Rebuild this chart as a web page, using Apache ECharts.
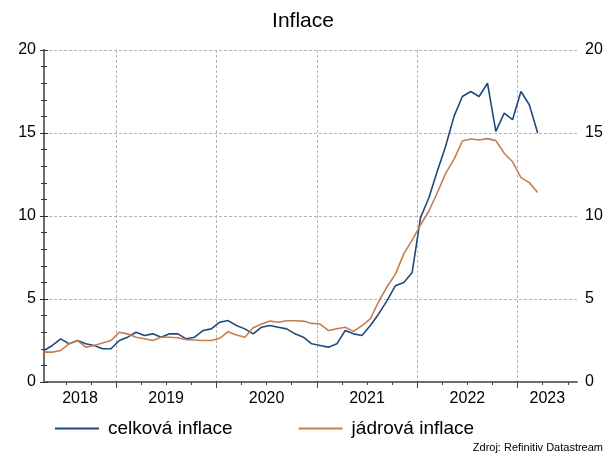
<!DOCTYPE html>
<html>
<head>
<meta charset="utf-8">
<script src="https://cdn.jsdelivr.net/npm/echarts@6/dist/echarts.min.js"></script>
<style>
	html,body{margin:0;padding:0;background:#fff;}
	#chartInflace{width:606px;height:454px;}
</style>
</head>
<body>
<div id="chartInflace"></div>
<script>
	// měsíce 2018-04 .. 2023-03
	const months = [
		'2018-04','2018-05','2018-06','2018-07','2018-08','2018-09','2018-10','2018-11','2018-12',
		'2019-01','2019-02','2019-03','2019-04','2019-05','2019-06','2019-07','2019-08','2019-09','2019-10','2019-11','2019-12',
		'2020-01','2020-02','2020-03','2020-04','2020-05','2020-06','2020-07','2020-08','2020-09','2020-10','2020-11','2020-12',
		'2021-01','2021-02','2021-03','2021-04','2021-05','2021-06','2021-07','2021-08','2021-09','2021-10','2021-11','2021-12',
		'2022-01','2022-02','2022-03','2022-04','2022-05','2022-06','2022-07','2022-08','2022-09','2022-10','2022-11','2022-12',
		'2023-01','2023-02','2023-03'
	];
	// celková inflace (%)
	const celkova = [
		1.9,2.2,2.6,2.3,2.5,2.3,2.2,2.0,2.0,
		2.5,2.7,3.0,2.8,2.9,2.7,2.9,2.9,2.6,2.7,3.1,3.2,
		3.6,3.7,3.4,3.2,2.9,3.3,3.4,3.3,3.2,2.9,2.7,2.3,
		2.2,2.1,2.3,3.1,2.9,2.8,3.4,4.1,4.9,5.8,6.0,6.6,
		9.9,11.1,12.7,14.2,16.0,17.2,17.5,17.2,18.0,15.1,16.2,15.8,
		17.5,16.7,15.0
	];
	// jádrová inflace (%)
	const jadrova = [
		1.8,1.8,1.9,2.3,2.5,2.1,2.2,2.35,2.5,
		3.0,2.9,2.7,2.6,2.5,2.7,2.7,2.67,2.55,2.53,2.5,2.5,
		2.63,3.03,2.83,2.69,3.27,3.49,3.67,3.6,3.69,3.69,3.67,3.53,
		3.49,3.1,3.21,3.3,3.05,3.4,3.8,4.85,5.74,6.5,7.72,8.55,
		9.46,10.3,11.4,12.57,13.41,14.52,14.64,14.58,14.66,14.54,13.78,13.27,
		12.31,12.01,11.41
	];
	// popisky let a jejich poloha na ose (index měsíce)
	const yearLabels = ['2018','2019','2020','2021','2022','2023'];
	const yearLabelPos = [4.3,14.6,26.6,38.6,50.6,60.15];
	const yearLines = [8.6,20.6,32.6,44.6,56.6];
	const quarterTicks = [2.6,5.6,8.6,11.6,14.6,17.6,20.6,23.6,26.6,29.6,32.6,35.6,38.6,41.6,44.6,47.6,50.6,53.6,56.6,59.6,62.6];

	const fontName = '"Liberation Sans", Arial, sans-serif';
	const blue = '#1f4a7c';
	const orange = '#c67e4f';
	const axisColor = '#6e6e6e';
	const gridColor = '#b4b4b4';

	const myChart = echarts.init(document.getElementById('chartInflace'));
	const chartOption = {
		animation: false,
		backgroundColor: '#fff',
		textStyle: {fontFamily: fontName},
		title: {
			text: 'Inflace',
			left: 'center',
			top: 6,
			textStyle: {fontSize: 21, fontWeight: 'normal', color: '#000', fontFamily: fontName}
		},
		grid: {left: 44, right: 29, top: 50, bottom: 72},
		legend: {
			left: 50,
			top: 414,
			icon: 'rect',
			itemWidth: 44,
			itemHeight: 2,
			itemGap: 66,
			textStyle: {fontSize: 19, color: '#000', fontFamily: fontName, padding: [0, 0, 0, 4]},
			data: ['celková inflace', 'jádrová inflace']
		},
		graphic: [{
			type: 'text',
			right: 3,
			bottom: 1,
			style: {text: 'Zdroj: Refinitiv Datastream', fontSize: 11, fill: '#000', fontFamily: fontName}
		}],
		xAxis: [{
			type: 'value',
			min: 0,
			max: 63.7,
			position: 'bottom',
			axisLine: {show: true, lineStyle: {color: axisColor, width: 2}},
			axisTick: {show: true, customValues: quarterTicks, length: 3, lineStyle: {color: '#444'}},
			axisLabel: {show: false},
			splitLine: {show: false}
		}, {
			type: 'value',
			min: 0,
			max: 63.7,
			position: 'bottom',
			axisLine: {show: false},
			axisTick: {show: true, customValues: yearLines, length: 6, lineStyle: {color: '#444'}},
			axisLabel: {
				show: true,
				customValues: yearLabelPos,
				fontSize: 16,
				color: '#000',
				margin: 9,
				formatter: function(value) {
					let best = 0;
					yearLabelPos.forEach((p, i) => {
						if (Math.abs(p - value) < Math.abs(yearLabelPos[best] - value)) best = i;
					});
					return yearLabels[best];
				}
			},
			splitLine: {show: true, lineStyle: {color: gridColor, type: [3, 2], width: 1}}
		}],
		yAxis: [{
			type: 'value',
			min: 0,
			max: 20,
			interval: 5,
			position: 'left',
			axisLine: {show: true, lineStyle: {color: axisColor, width: 2}},
			axisTick: {show: true, inside: true, length: 4, lineStyle: {color: '#333'}},
			minorTick: {show: true, splitNumber: 5, length: 3, lineStyle: {color: '#333'}},
			axisLabel: {fontSize: 16, color: '#000', margin: 8},
			splitLine: {show: true, lineStyle: {color: gridColor, type: [3, 2], width: 1}}
		}, {
			type: 'value',
			min: 0,
			max: 20,
			interval: 5,
			position: 'right',
			axisLine: {show: true, lineStyle: {color: axisColor, width: 2}},
			axisTick: {show: true, inside: true, length: 4, lineStyle: {color: '#333'}},
			minorTick: {show: true, splitNumber: 5, length: 3, lineStyle: {color: '#333'}},
			axisLabel: {fontSize: 16, color: '#000', margin: 8},
			splitLine: {show: false}
		}],
		series: [{
			name: 'celková inflace',
			type: 'line',
			xAxisIndex: 0,
			yAxisIndex: 0,
			symbol: 'none',
			data: months.map((m, i) => [i, celkova[i]]),
			lineStyle: {color: blue, width: 1.6},
			itemStyle: {color: blue}
		}, {
			name: 'jádrová inflace',
			type: 'line',
			xAxisIndex: 0,
			yAxisIndex: 0,
			symbol: 'none',
			data: months.map((m, i) => [i, jadrova[i]]),
			lineStyle: {color: orange, width: 1.6},
			itemStyle: {color: orange}
		}]
	};
	myChart.setOption(chartOption);
</script>
</body>
</html>
